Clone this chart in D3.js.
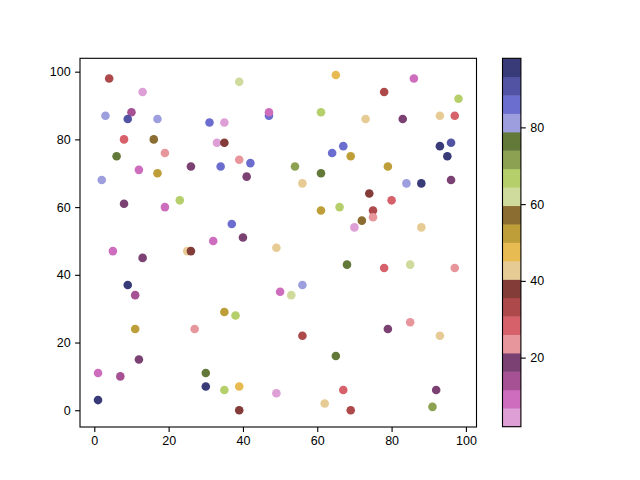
<!DOCTYPE html>
<meta charset="utf-8">
<title>scatter</title>
<body>
<script src="https://cdn.jsdelivr.net/npm/d3@7"></script>
<style>
html, body {
    margin: 0;
    background: #fff;
}
svg {
    display: block;
    font-family: "Noto Sans", "DejaVu Sans", sans-serif;
}
</style>
<script>
// point data
var xVals = [4,13,39,3,10,9,17,31,35,47,47,8,16,33,35,6,19,39,42,12,17,26,34,41,2,8,19,23,37,32,40,
    65,86,78,98,61,73,83,93,97,93,96,95,64,67,69,54,61,79,96,56,84,88,74,80,61,66,75,75,72,70,88,
    5,13,25,26,49,9,11,35,38,11,27,12,1,7,30,30,35,39,1,39,49,
    68,78,85,97,50,53,56,56,79,85,93,65,67,62,69,92,91];
var yVals = [98,94,97,87,88,86,86,85,85,87,88,80,80,79,79,75,76,74,73,71,70,72,72,69,68,61,60,62,55,50,51,
    99,98,94,92,88,86,86,87,87,78,79,75,76,78,75,72,70,72,68,67,67,67,64,62,59,60,59,57,56,54,54,
    47,45,47,47,48,37,34,29,28,24,24,15,11,10,11,7,6,7,3,0,5,
    43,42,43,42,35,34,37,22,24,26,22,16,6,2,0,6,1];
var cVals = [33,2,62,82,14,91,82,86,4,86,9,28,57,4,38,77,24,24,86,9,53,19,86,19,82,19,9,67,86,9,19,
    48,9,33,67,67,43,19,43,28,98,91,96,86,86,53,72,77,53,19,43,82,96,38,28,53,67,33,24,57,4,43,
    9,19,43,38,43,96,14,53,67,53,24,19,9,14,77,96,67,48,96,38,4,
    77,28,62,24,9,62,82,33,19,24,43,77,28,43,33,19,72];

var xTicks = [0, 20, 40, 60, 80, 100],
    yTicks = [0, 20, 40, 60, 80, 100],
    cTicks = [20, 40, 60, 80];

// tab20b, reversed
var cmap = ["#393b79","#5254a3","#6b6ecf","#9c9ede","#637939","#8ca252","#b5cf6b","#cedb9c",
    "#8c6d31","#bd9e39","#e7ba52","#e7cb94","#843c39","#ad494a","#d6616b","#e7969c",
    "#7b4173","#a55194","#ce6dbd","#de9ed6"].reverse();

var width = 640,
    height = 480,
    axL = 80, axR = 476.5, axT = 58.3, axB = 427;

var svg = d3.select("body").append("svg")
    .attr("width", width)
    .attr("height", height);

svg.append("rect").attr("width", width).attr("height", height).attr("fill", "#fff");

function pad(ext) {
    var d = (ext[1] - ext[0]) * 0.05;
    return [ext[0] - d, ext[1] + d];
}

var x = d3.scaleLinear().domain(pad(d3.extent(xVals))).range([axL, axR]);
var y = d3.scaleLinear().domain(pad(d3.extent(yVals))).range([axB, axT]);
var cExt = d3.extent(cVals);
var color = d3.scaleQuantize().domain(cExt).range(cmap);

var pts = xVals.map(function(d, i) { return {x: d, y: yVals[i], c: cVals[i]}; });

svg.append("g")
  .selectAll("circle")
  .data(pts)
  .enter().append("circle")
    .attr("cx", function(d) { return x(d.x); })
    .attr("cy", function(d) { return y(d.y); })
    .attr("r", 4.3)
    .attr("fill", function(d) { return color(d.c); });

function styleAxis(g) {
    g.select(".domain").remove();
    g.selectAll(".tick line").attr("stroke", "#000").attr("stroke-width", 1.1);
    g.selectAll(".tick text").attr("fill", "#000").style("font-size", "12.5px");
}

svg.append("g")
    .attr("transform", "translate(0," + axB + ")")
    .call(d3.axisBottom(x).tickValues(xTicks).tickSize(4.9).tickPadding(4.5))
    .call(styleAxis);

svg.append("g")
    .attr("transform", "translate(" + axL + ",0)")
    .call(d3.axisLeft(y).tickValues(yTicks).tickSize(4.9).tickPadding(4.5))
    .call(styleAxis);

svg.append("rect")
    .attr("x", axL).attr("y", axT)
    .attr("width", axR - axL).attr("height", axB - axT)
    .attr("fill", "none").attr("stroke", "#000").attr("stroke-width", 1.1);

// colorbar
var cbL = 502.5, cbW = 18.4, cbTop = 58.3, cbBot = 426.7;
var cy = d3.scaleLinear().domain(cExt).range([cbBot, cbTop]);
var step = (cExt[1] - cExt[0]) / cmap.length;

svg.append("g")
  .selectAll("rect")
  .data(cmap)
  .enter().append("rect")
    .attr("x", cbL)
    .attr("width", cbW)
    .attr("y", function(d, i) { return cy(cExt[0] + (i + 1) * step); })
    .attr("height", function(d, i) { return cy(cExt[0] + i * step) - cy(cExt[0] + (i + 1) * step) + 0.4; })
    .attr("fill", function(d) { return d; });

svg.append("g")
    .attr("transform", "translate(" + (cbL + cbW) + ",0)")
    .call(d3.axisRight(cy).tickValues(cTicks).tickSize(4.9).tickPadding(4.5))
    .call(styleAxis);

svg.append("rect")
    .attr("x", cbL).attr("y", cbTop)
    .attr("width", cbW).attr("height", cbBot - cbTop)
    .attr("fill", "none").attr("stroke", "#000").attr("stroke-width", 1.1);
</script>
